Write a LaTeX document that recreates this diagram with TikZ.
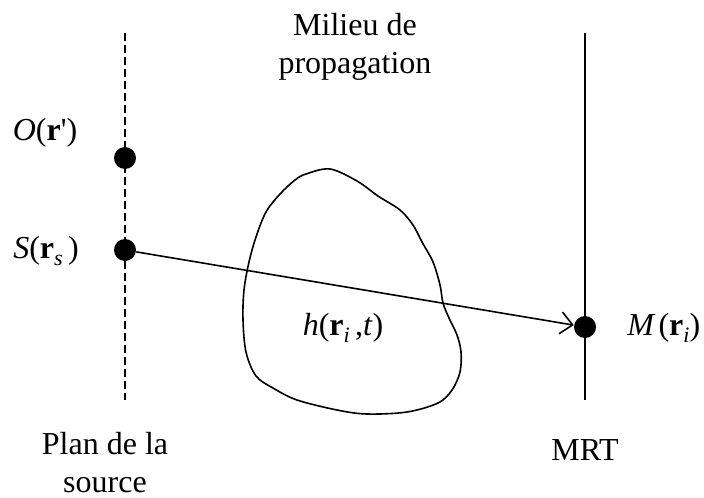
\documentclass[tikz,border=0pt]{standalone}
\usepackage{fontspec}
\setmainfont{Liberation Serif}
\usepackage{tikz}
\usetikzlibrary{arrows.meta}
\newcommand{\vecr}{\textbf{r}}
\newcommand{\indice}[1]{\raisebox{-0.5ex}{\fontsize{11}{11}\selectfont\textit{#1}}}

\begin{document}
\begin{tikzpicture}[x=0.5pt,y=-0.5pt,
  every node/.style={font=\fontsize{16}{19}\selectfont},
  pastille/.style={circle,fill=black,inner sep=0pt,minimum size=11pt},
  plan/.style={line width=0.9pt}]
\useasboundingbox (0,0) rectangle (704,497);
\draw[plan,dash pattern=on 4pt off 2pt] (125,33)--(125,400);
\draw[plan] (585,33)--(585,400);
\node[pastille] (o) at (125,158) {};
\node[pastille] (s) at (125,250) {};
\node[pastille] (m) at (585,327) {};
\draw[line width=0.8pt] plot[smooth cycle,tension=0.55] coordinates {
  (306,174) (330,169) (357,181) (378,196) (400,210) (413,225) (422,242)
  (433,262) (440,285) (443,303) (449,318) (457,335) (461,352) (460,372)
  (452,390) (438,403) (407,412) (367,414) (337,410) (297,400) (273,388)
  (256,376) (246,352) (243,320) (244,290) (249,262) (256,237) (266,212)
  (280,194) (295,180)};
\draw[line width=0.8pt,-{Straight Barb[length=6pt,width=11pt]}] (s)--(m);
\node (lo) at (45,133) {\textit{O}(\vecr\textquotesingle)};
\node (ls) at (46,251) {\textit{S}(\vecr\indice{s}\,)};
\node[anchor=west,inner sep=0pt] (lm) at (627,328) {\textit{M}\kern1.5pt(\vecr\indice{i})};
\node (lh) at (343,328) {\textit{h}(\vecr\indice{i}\,,\textit{t})};
\node[align=center] (milieu) at (355,47) {Milieu de\\propagation};
\node[align=center,inner sep=0pt] (source) at (105,463) {Plan de la\\source};
\node (mrt) at (585,450) {MRT};
\end{tikzpicture}
\end{document}
